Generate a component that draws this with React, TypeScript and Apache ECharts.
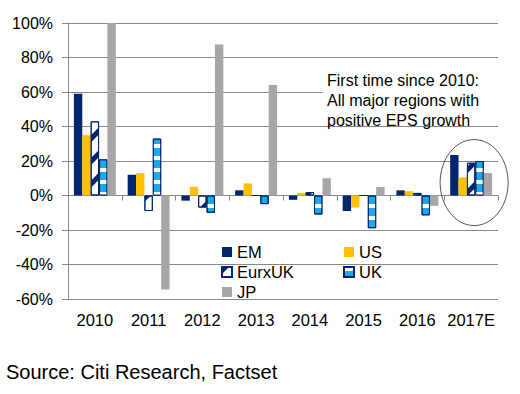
import React, { useEffect, useRef } from 'react';
import * as echarts from 'echarts';

const categories = ['2010', '2011', '2012', '2013', '2014', '2015', '2016', '2017E'];
const emValues = [59, 12, -3, 3, -2.5, -9, 3, 23.5];
const usValues = [35, 13, 5, 7, 1.5, -7, 2.5, 10.5];
const eurxukValues = [43, -9, -7, 0, 2, 0, 1.5, 19];
const ukValues = [21, 33, -10, -5, -11, -19, -11.5, 20];
const jpValues = [100, -54.5, 87.5, 64, 10, 5, -6, 13];
const yMin = -60;
const yMax = 100;
const yStep = 20;
const annotationLines = ['First time since 2010:', 'All major regions with', 'positive EPS growth'];
const sourceText = 'Source: Citi Research, Factset';

const FONT = '"Liberation Sans", Arial, sans-serif';
const NAVY = '#00256E';
const GOLD = '#FFC000';
const SKY = '#1DA8E6';
const GREY = '#A6A6A6';
const GRID = '#878787';

export default function App() {
  const ref = useRef<HTMLDivElement>(null);
  useEffect(() => {
    document.body.style.margin = '0';
    const chart = echarts.init(ref.current!, null, { renderer: 'svg' });
    const legendText = { fontSize: 16.5, lineHeight: 20, color: '#000', fontFamily: FONT };
    chart.setOption({
      animation: false,
      grid: { left: 68, right: 22, top: 23, bottom: 95, containLabel: false },
      legend: [
        {
          orient: 'vertical', left: 216, top: 237, itemWidth: 10, itemHeight: 10, itemGap: 0,
          icon: 'rect', data: ['EM', 'EurxUK', 'JP'], textStyle: legendText,
        },
        {
          orient: 'vertical', left: 338, top: 237, itemWidth: 10, itemHeight: 10, itemGap: 0,
          icon: 'rect', data: ['US', 'UK'], textStyle: legendText,
        },
      ],
      xAxis: [
        {
          type: 'category', data: categories, position: 'bottom',
          axisLine: { show: false, onZero: false },
          axisTick: { show: false },
          axisLabel: { interval: 0, hideOverlap: false, fontSize: 16.5, color: '#000', fontFamily: FONT, margin: 12 },
        },
        {
          type: 'category', data: categories, position: 'bottom',
          axisLine: { show: true, onZero: true, lineStyle: { color: GRID, width: 1 } },
          axisTick: { show: true, interval: 0, length: 5, lineStyle: { color: GRID } },
          axisLabel: { show: false },
        },
      ],
      yAxis: {
        type: 'value', min: yMin, max: yMax, interval: yStep,
        axisLine: { show: true, lineStyle: { color: GRID } },
        axisTick: { show: true, length: 6, lineStyle: { color: GRID } },
        axisLabel: { formatter: '{value}%', fontSize: 16, color: '#000', fontFamily: FONT, margin: 15 },
        splitLine: { show: true, lineStyle: { color: GRID, width: 1 } },
      },
      series: [
        { name: 'EM', type: 'bar', data: emValues, barGap: '0%', barCategoryGap: '22%', itemStyle: { color: NAVY } },
        { name: 'US', type: 'bar', data: usValues, barGap: '0%', barCategoryGap: '22%', itemStyle: { color: GOLD } },
        {
          name: 'EurxUK', type: 'bar', data: eurxukValues, barGap: '0%', barCategoryGap: '22%',
          itemStyle: {
            color: '#ffffff', borderColor: NAVY, borderWidth: 1,
            decal: {
              symbol: 'rect', symbolSize: 1, color: NAVY, backgroundColor: '#ffffff',
              dashArrayX: [[1, 0]], dashArrayY: [5, 11], rotation: -Math.PI / 4,
            },
          },
        },
        {
          name: 'UK', type: 'bar', data: ukValues, barGap: '0%', barCategoryGap: '22%',
          itemStyle: {
            color: SKY, borderColor: NAVY, borderWidth: 1,
            decal: {
              symbol: 'rect', symbolSize: 1, color: '#ffffff',
              dashArrayX: [[1, 0]], dashArrayY: [4, 8], rotation: 0,
            },
          },
        },
        { name: 'JP', type: 'bar', data: jpValues, barGap: '0%', barCategoryGap: '22%', itemStyle: { color: GREY } },
      ],
    });
    const [cx, cy] = chart.convertToPixel({ xAxisIndex: 0, yAxisIndex: 0 }, [categories[7], 7.5]) as number[];
    chart.setOption({
      graphic: [
        { type: 'rect', left: 323, top: 70, shape: { width: 175, height: 55 }, style: { fill: '#fff' }, z: 10 },
        {
          type: 'text', left: 327, top: 70, z: 11,
          style: { text: annotationLines.join('\n'), fontSize: 16, lineHeight: 20, fill: '#000', fontFamily: FONT },
        },
        {
          type: 'ellipse', z: 12,
          shape: { cx: cx + 3, cy: cy, rx: 34, ry: 43 },
          style: { fill: 'none', stroke: '#555', lineWidth: 1 },
        },
        {
          type: 'text', left: 6, top: 362, z: 11,
          style: { text: sourceText, fontSize: 20, fill: '#000', fontFamily: FONT },
        },
      ],
    });
    return () => chart.dispose();
  }, []);
  return <div ref={ref} style={{ width: 520, height: 394 }} />;
}
